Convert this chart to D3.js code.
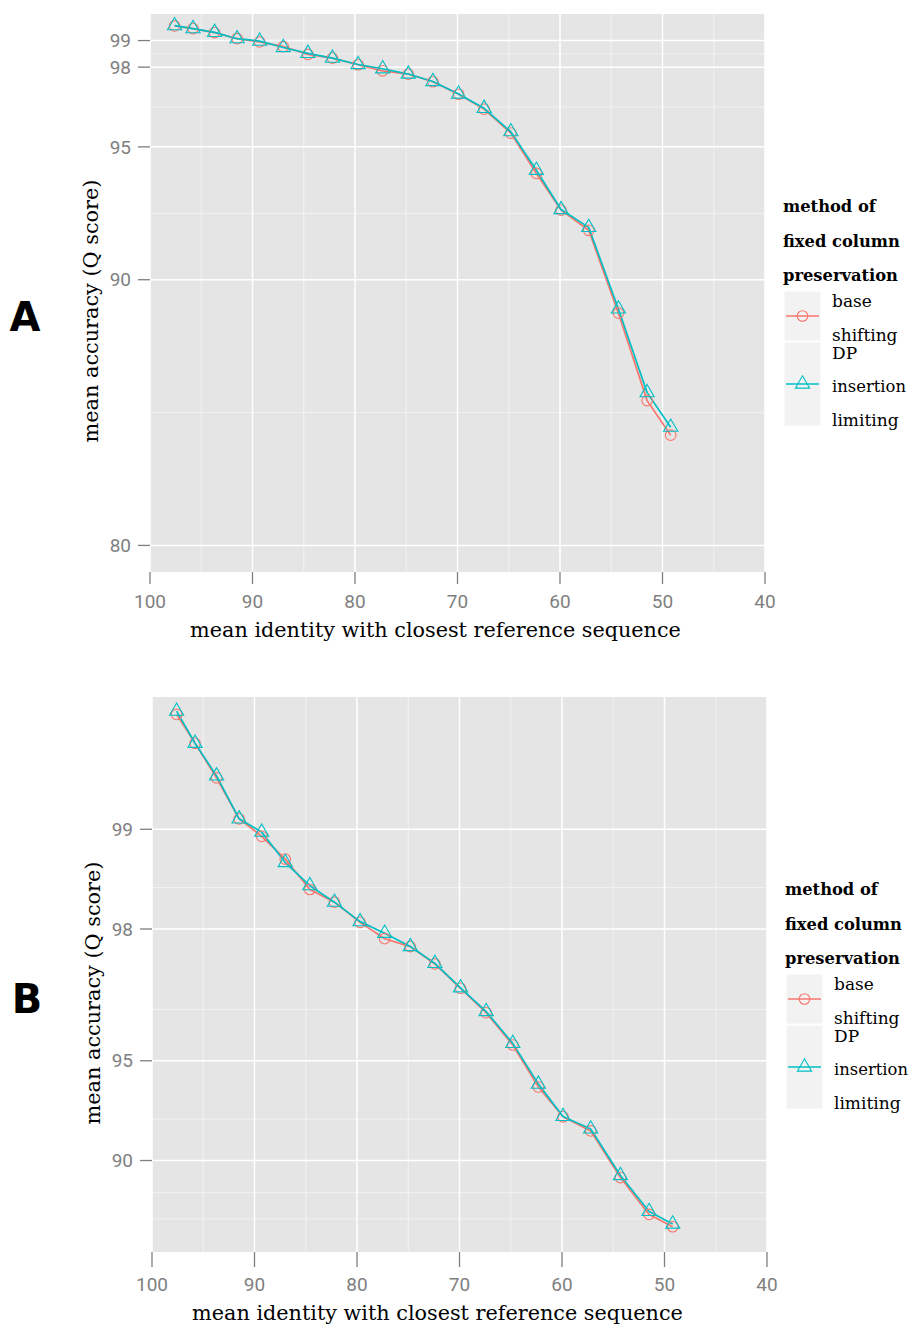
<!DOCTYPE html>
<html><head><meta charset="utf-8">
<script src="https://cdn.jsdelivr.net/npm/d3@7"></script>
<style>body{margin:0;background:#fff}</style>
</head><body>
<svg id="chart" width="910" height="1326"></svg>
<script>
// ---- data ----
const identity = [97.6, 95.8, 93.7, 91.5, 89.3, 87.0, 84.6, 82.2, 79.7, 77.3, 74.8, 72.4, 69.9, 67.4, 64.8, 62.3, 59.9, 57.2, 54.3, 51.5, 49.2];
const baseShifting = [99.55, 99.45, 99.30, 99.07, 98.95, 98.77, 98.48, 98.34, 98.09, 97.86, 97.74, 97.45, 96.98, 96.42, 95.52, 94.00, 92.62, 91.86, 88.74, 85.45, 84.15];
const dpInsertion  = [99.56, 99.45, 99.31, 99.07, 98.98, 98.74, 98.52, 98.34, 98.10, 97.94, 97.74, 97.46, 96.99, 96.45, 95.57, 94.12, 92.64, 91.97, 88.90, 85.75, 84.45];
const xTicks = [100, 90, 80, 70, 60, 50, 40];
const xMinor = [95, 85, 75, 65, 55, 45];
const yTicksA = [80, 90, 95, 98, 99];
const yMinorA = [85, 92.5, 96.5, 98.5];
const yTicksB = [90, 95, 98, 99];
const yMinorB = [85, 87.5, 92.5, 96.5, 98.5];
const seriesNames = ["base shifting", "DP insertion limiting"];
const legendTitle = ["method of", "fixed column", "preservation"];
const legendLabels = [["base", "shifting"], ["DP", "insertion", "limiting"]];
const panelLabels = ["A", "B"];
const xTitle = "mean identity with closest reference sequence";
const yTitle = "mean accuracy (Q score)";

const colors = ["#F8766D", "#00BFC4"];
const series = [baseShifting, dpInsertion];
const serif = "'DejaVu Serif', 'Liberation Serif', serif";
const tickFont = "'Liberation Sans Narrow', 'Roboto', sans-serif";

const svg = d3.select("#chart");

function fit(t, target) {
  const w = t.node().getComputedTextLength();
  const fs = parseFloat(t.attr("font-size"));
  t.attr("font-size", fs * target / w);
  return fs * target / w;
}

function tri(cx, cy, R) {
  const h = R * Math.sqrt(3) / 2;
  return `M${cx},${cy - R}L${cx + h},${cy + R / 2}L${cx - h},${cy + R / 2}Z`;
}

function drawPanel(cfg) {
  const g = svg.append("g");
  const L = cfg.left, R = cfg.right, T = cfg.top, B = cfg.bottom;
  const x = d3.scaleLinear().domain([100, 40]).range([L, R]);
  const y = cfg.y;
  const off = cfg.belowOffset;

  g.append("rect").attr("x", L).attr("y", T).attr("width", R - L).attr("height", B - T).attr("fill", "#E5E5E5");
  // minor grid
  g.selectAll(".mx").data(xMinor).enter().append("line")
    .attr("x1", d => x(d)).attr("x2", d => x(d)).attr("y1", T).attr("y2", B)
    .attr("stroke", "#F2F2F2").attr("stroke-width", 1);
  g.selectAll(".my").data(cfg.yMinor).enter().append("line")
    .attr("y1", d => y(d)).attr("y2", d => y(d)).attr("x1", L).attr("x2", R)
    .attr("stroke", "#F2F2F2").attr("stroke-width", 1);
  // major grid
  g.selectAll(".Mx").data(xTicks).enter().append("line")
    .attr("x1", d => x(d)).attr("x2", d => x(d)).attr("y1", T).attr("y2", B)
    .attr("stroke", "#FFFFFF").attr("stroke-width", 1.5);
  g.selectAll(".My").data(cfg.yTicks).enter().append("line")
    .attr("y1", d => y(d)).attr("y2", d => y(d)).attr("x1", L).attr("x2", R)
    .attr("stroke", "#FFFFFF").attr("stroke-width", 1.5);

  // axes ticks
  g.selectAll(".tx").data(xTicks).enter().append("line")
    .attr("x1", d => x(d)).attr("x2", d => x(d)).attr("y1", B).attr("y2", B + 12 + off)
    .attr("stroke", "#7F7F7F").attr("stroke-width", 1.3);
  g.selectAll(".ty").data(cfg.yTicks).enter().append("line")
    .attr("y1", d => y(d)).attr("y2", d => y(d)).attr("x1", L - 12).attr("x2", L)
    .attr("stroke", "#7F7F7F").attr("stroke-width", 1.3);
  const tfs = 19;
  g.selectAll(".lx").data(xTicks).enter().append("text")
    .attr("x", d => x(d)).attr("y", B + 29 + off + tfs * 0.35).attr("text-anchor", "middle")
    .attr("font-family", tickFont).attr("font-size", tfs).attr("fill", "#7F7F7F").text(d => d);
  g.selectAll(".ly").data(cfg.yTicks).enter().append("text")
    .attr("x", L - 19).attr("y", d => y(d) + tfs * 0.35).attr("text-anchor", "end")
    .attr("font-family", tickFont).attr("font-size", tfs).attr("fill", "#7F7F7F").text(d => d);

  // lines
  const line = d3.line().x((d, i) => x(identity[i])).y(d => y(d));
  series.forEach((s, k) => {
    g.append("path").attr("d", line(s)).attr("fill", "none")
      .attr("stroke", colors[k]).attr("stroke-width", 1.7).attr("stroke-linejoin", "round");
  });
  // points
  g.selectAll(".pc").data(baseShifting).enter().append("circle")
    .attr("cx", (d, i) => x(identity[i])).attr("cy", d => y(d)).attr("r", 5.3)
    .attr("fill", "none").attr("stroke", colors[0]).attr("stroke-width", 1.1);
  g.selectAll(".pt").data(dpInsertion).enter().append("path")
    .attr("d", (d, i) => tri(x(identity[i]), y(d), 8.2))
    .attr("fill", "none").attr("stroke", colors[1]).attr("stroke-width", 1.1);

  // axis titles
  const xt = g.append("text").attr("x", (L + R) / 2 - 22).attr("y", B + 58 + off + 7)
    .attr("text-anchor", "middle").attr("font-family", serif).attr("font-size", 21).attr("fill", "#000").text(xTitle);
  fit(xt, 491);
  const yt = g.append("text").attr("transform", `translate(${L - 52},${cfg.yTitleY}) rotate(-90)`)
    .attr("text-anchor", "middle").attr("font-family", serif).attr("font-size", 21).attr("fill", "#000").text(yTitle);
  fit(yt, 263);
  // panel label
  g.append("text").attr("x", cfg.labelX).attr("y", cfg.labelY + 14).attr("text-anchor", "middle")
    .attr("font-family", "'DejaVu Sans', sans-serif").attr("font-weight", "bold").attr("font-size", 40)
    .attr("fill", "#000").text(cfg.label);

  // legend
  const lx = cfg.legX, ly = cfg.legY;
  const titleTexts = legendTitle.map((t, i) => g.append("text").attr("x", lx).attr("y", ly + i * 34.5 + 6)
    .attr("font-family", serif).attr("font-weight", "bold").attr("font-size", 18).attr("fill", "#000").text(t));
  const tfsz = fit(titleTexts[1], 117);
  titleTexts.forEach(t => t.attr("font-size", tfsz));
  const keys = [{y: ly + 85, h: 50}, {y: ly + 136, h: 84}];
  keys.forEach((k, i) => {
    g.append("rect").attr("x", lx + 1).attr("y", k.y).attr("width", 37).attr("height", k.h)
      .attr("fill", "#F2F2F2").attr("stroke", "#FFFFFF").attr("stroke-width", 1);
    const cy = k.y + k.h / 2;
    g.append("line").attr("x1", lx + 3).attr("x2", lx + 36).attr("y1", cy).attr("y2", cy)
      .attr("stroke", colors[i]).attr("stroke-width", 1.7);
    if (i === 0) {
      g.append("circle").attr("cx", lx + 19.5).attr("cy", cy).attr("r", 5.3)
        .attr("fill", "none").attr("stroke", colors[0]).attr("stroke-width", 1.1);
    } else {
      g.append("path").attr("d", tri(lx + 19.5, cy, 8.2))
        .attr("fill", "none").attr("stroke", colors[1]).attr("stroke-width", 1.1);
    }
    const lab = legendLabels[i];
    const n = lab.length;
    lab.forEach((s, j) => {
      const t = g.append("text").attr("x", lx + 49).attr("y", cy + 2 + (j - (n - 1) / 2) * 33.5 + 6)
        .attr("font-family", serif).attr("font-size", 17).attr("fill", "#000").text(s);
      if (s === "insertion") fit(t, 74);
    });
  });
}

// Panel A: linear y
const yA = d3.scaleLinear().domain([79, 100]).range([572, 14]);
drawPanel({left: 150, right: 765, top: 14, bottom: 572, y: yA, yTicks: yTicksA, yMinor: yMinorA, belowOffset: 0,
  yTitleY: 311, label: panelLabels[0], labelX: 25, labelY: 317, legX: 783, legY: 206});

// Panel B: log-scaled error (100 - accuracy)
const yLogB = d3.scaleLog().domain([18.89, 0.3987]).range([1252, 697]);
const yB = v => yLogB(100 - v);
drawPanel({left: 152, right: 767, top: 697, bottom: 1252, y: yB, yTicks: yTicksB, yMinor: yMinorB, belowOffset: 3,
  yTitleY: 993, label: panelLabels[1], labelX: 27, labelY: 999, legX: 785, legY: 889});
</script>
</body></html>
